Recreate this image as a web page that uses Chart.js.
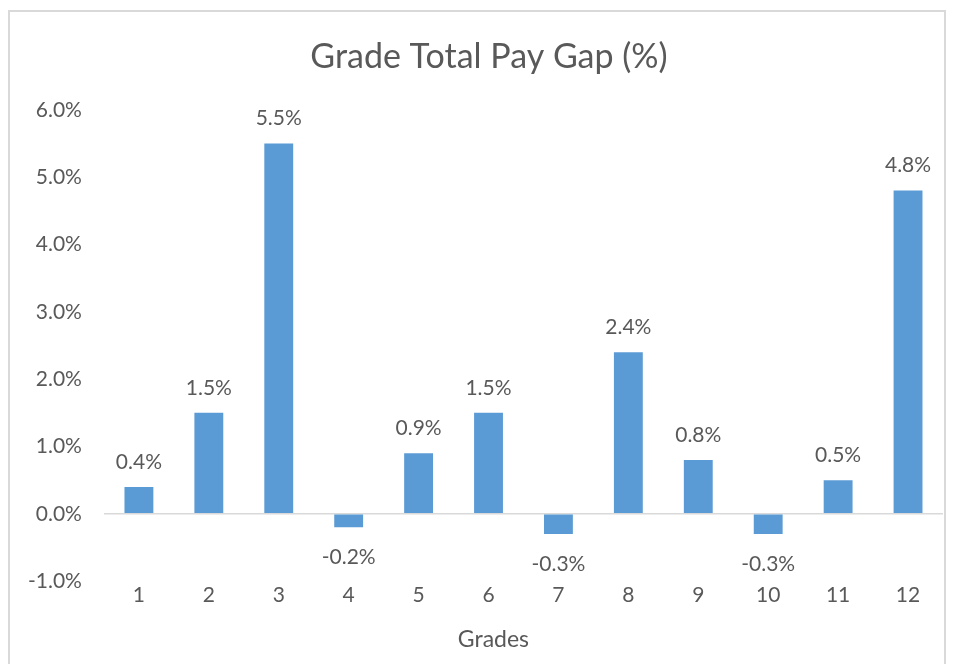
<!DOCTYPE html>
<html>
<head>
<meta charset="utf-8">
<script src="https://cdn.jsdelivr.net/npm/chart.js@4/dist/chart.umd.min.js"></script>
<style>
  html, body { margin: 0; padding: 0; background: #fff; }
  #frame {
    position: absolute; left: 8px; top: 10px;
    width: 934px; height: 660px;
    border: 2px solid #d9d9d9; border-bottom: none;
  }
  #frame canvas { display: block; }
</style>
</head>
<body>
<div id="frame"><canvas id="myChart" width="934" height="652"></canvas></div>
<script>
const grades = ['1', '2', '3', '4', '5', '6', '7', '8', '9', '10', '11', '12'];
const payGap = [0.4, 1.5, 5.5, -0.2, 0.9, 1.5, -0.3, 2.4, 0.8, -0.3, 0.5, 4.8];

const chartTitle = 'Grade Total Pay Gap (%)';
const axisTitle = 'Grades';

const labelColor = '#595959';
const fontName = 'Lato, "Open Sans", sans-serif';

// draws the value above (or below) each bar
const barLabels = {
    id: 'barLabels',
    afterDatasetsDraw(chart) {
        const ctx = chart.ctx;
        const meta = chart.getDatasetMeta(0);
        ctx.save();
        ctx.font = '21px ' + fontName;
        ctx.fillStyle = labelColor;
        ctx.textAlign = 'center';
        ctx.textBaseline = 'middle';
        meta.data.forEach(function(bar, i) {
            const v = payGap[i];
            const y = v >= 0 ? bar.y - 25 : bar.y + 30;
            ctx.fillText(v.toFixed(1) + '%', bar.x, y);
        });
        ctx.restore();
    }
};

// the chart title and the x axis title sit a bit off the chart area centre, like in excel,
// so the built in ones only keep the room and this draws the text
const titles = {
    id: 'titles',
    afterDraw(chart) {
        const ctx = chart.ctx;
        const t = chart.titleBlock;
        const xs = chart.scales.x;
        ctx.save();
        ctx.fillStyle = labelColor;
        ctx.textAlign = 'center';
        ctx.textBaseline = 'middle';
        ctx.font = '34px ' + fontName;
        ctx.fillText(chartTitle, chart.width / 2 + 12, t.top + 25 + 20);
        ctx.font = '23px ' + fontName;
        ctx.fillText(axisTitle, (xs.left + xs.right) / 2 - 30, xs.bottom - 11);
        ctx.restore();
    }
};

document.addEventListener('DOMContentLoaded', function() {
    const ctx = document.getElementById('myChart');
    new Chart(ctx, {
        type: 'bar',
        data: {
            labels: grades,
            datasets: [{
                label: chartTitle,
                data: payGap,
                backgroundColor: '#5b9bd5',
                borderWidth: 0,
                barPercentage: 0.59,
                categoryPercentage: 0.7
            }]
        },
        options: {
            responsive: false,
            animation: false,
            layout: { padding: { left: -4, right: 1, top: 0, bottom: 13 } },
            plugins: {
                legend: { display: false },
                tooltip: { enabled: false },
                title: {
                    display: true,
                    text: chartTitle,
                    color: 'rgba(0,0,0,0)',
                    font: { family: fontName, size: 34, weight: 'normal' },
                    padding: { top: 25, bottom: 32 }
                }
            },
            scales: {
                x: {
                    grid: { display: false, drawTicks: false },
                    border: { display: false },
                    ticks: {
                        color: labelColor,
                        font: { family: fontName, size: 21 },
                        padding: 1
                    },
                    title: {
                        display: true,
                        text: axisTitle,
                        color: 'rgba(0,0,0,0)',
                        font: { family: fontName, size: 23 },
                        padding: { top: 15, bottom: 0 }
                    }
                },
                y: {
                    min: -1,
                    max: 6,
                    border: { display: false },
                    grid: {
                        drawTicks: false,
                        lineWidth: 1.5,
                        color: function(c) {
                            return c.tick && c.tick.value === 0 ? '#d9d9d9' : 'rgba(0,0,0,0)';
                        }
                    },
                    ticks: {
                        stepSize: 1,
                        color: labelColor,
                        font: { family: fontName, size: 21 },
                        padding: 22,
                        callback: function(v) { return v.toFixed(1) + '%'; }
                    }
                }
            }
        },
        plugins: [barLabels, titles]
    });
});
</script>
</body>
</html>
